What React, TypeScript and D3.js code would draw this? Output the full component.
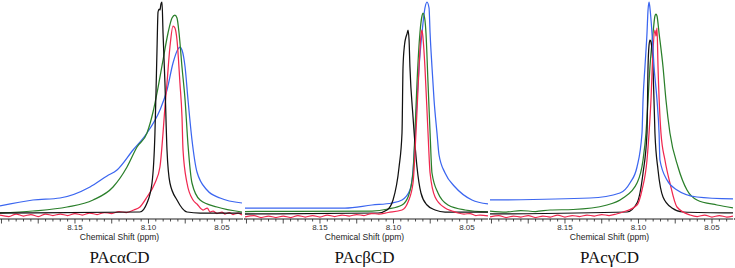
import React from "react";
import * as d3 from "d3";

type Pt = [number, number];

const panelTitles = ["PAcαCD", "PAcβCD", "PAcγCD"];
const axisLabel = "Chemical Shift (ppm)";
const tickLabels = [8.15, 8.1, 8.05];
const ppmDomain: [number, number] = [8.201, 8.0357];
const intensityDomain: [number, number] = [0, 217];
const seriesColors = { black: "#111111", green: "#2a7f2a", red: "#f0284f", blue: "#3b66f0" };

// Panel 1 (PAcαCD)
const blue1: Pt[] = [
  [8.201, 13], [8.1786, 19], [8.1602, 21], [8.1398, 32], [8.1282, 43], [8.1214, 49],
  [8.1105, 69], [8.101, 86], [8.0922, 109], [8.0874, 129], [8.0833, 156], [8.0799, 170],
  [8.0786, 172], [8.0772, 169], [8.0751, 152], [8.0731, 119], [8.0704, 79], [8.067, 47],
  [8.0602, 29], [8.0513, 21], [8.0364, 16],
];
const green1: Pt[] = [
  [8.201, 6], [8.1786, 8], [8.1554, 12], [8.1377, 19], [8.1241, 32], [8.1146, 52],
  [8.1078, 72], [8.101, 86], [8.0969, 107], [8.0942, 126], [8.0901, 159], [8.0867, 186],
  [8.084, 201], [8.082, 204], [8.0806, 201], [8.0792, 186], [8.0772, 152], [8.0751, 119],
  [8.0731, 74], [8.0704, 36], [8.0649, 19], [8.0534, 12], [8.0364, 7],
];
const red1: Pt[] = [
  [8.201, 4], [8.195, 2.5], [8.19, 5], [8.185, 3], [8.18, 4.5], [8.175, 2.5], [8.17, 5],
  [8.165, 3.5], [8.16, 5], [8.155, 3.5], [8.15, 5.5], [8.145, 4], [8.14, 6], [8.135, 4.5],
  [8.13, 6.5], [8.125, 5.5], [8.12, 7.5], [8.115, 6.5], [8.11, 9], [8.1058, 12],
  [8.101, 22], [8.0956, 36], [8.0922, 52], [8.0901, 86], [8.0888, 112], [8.0874, 136],
  [8.0854, 172], [8.0833, 193], [8.082, 191], [8.0806, 179], [8.0786, 136], [8.0772, 102],
  [8.0765, 69], [8.0738, 36], [8.0697, 19], [8.067, 15], [8.0629, 9], [8.06, 11], [8.0581, 7],
  [8.0561, 8], [8.0534, 5.5], [8.05, 7], [8.0479, 5], [8.045, 6.5], [8.0425, 4.5], [8.039, 6],
  [8.0364, 4],
];
const black1: Pt[] = [
  [8.201, 6], [8.1058, 7], [8.101, 16], [8.0976, 36], [8.0956, 86], [8.0949, 126],
  [8.0942, 169], [8.0935, 207], [8.0928, 210], [8.0922, 209], [8.0915, 215], [8.0908, 217],
  [8.0901, 186], [8.0888, 136], [8.0874, 69], [8.0854, 36], [8.0806, 19], [8.0738, 7],
  [8.0649, 6], [8.0364, 6],
];

// Panel 2 (PAcβCD)
const blue2: Pt[] = [
  [8.201, 11], [8.133, 11], [8.1146, 14], [8.101, 16], [8.0942, 19], [8.0888, 29],
  [8.0867, 49], [8.0854, 79], [8.084, 119], [8.0826, 152], [8.0806, 186], [8.0786, 211],
  [8.0772, 217], [8.0758, 211], [8.0751, 186], [8.0738, 152], [8.0724, 119], [8.0704, 86],
  [8.069, 64], [8.0649, 46], [8.0581, 32], [8.0466, 19], [8.0357, 15],
];
const green2: Pt[] = [
  [8.201, 7.5], [8.1146, 8], [8.1037, 10], [8.0942, 14], [8.0901, 22], [8.0867, 46],
  [8.0854, 86], [8.084, 136], [8.082, 186], [8.0806, 203], [8.0799, 206], [8.0786, 199],
  [8.0779, 186], [8.0765, 136], [8.0751, 86], [8.0738, 46], [8.0697, 26], [8.0629, 14],
  [8.0513, 9], [8.0357, 7],
];
const red2: Pt[] = [
  [8.201, 2], [8.195, 3.5], [8.19, 1.5], [8.185, 3], [8.18, 1.5], [8.175, 3], [8.17, 1.5],
  [8.165, 3.5], [8.16, 2], [8.155, 3.5], [8.15, 2], [8.145, 4], [8.14, 2.5], [8.135, 4],
  [8.13, 3], [8.125, 4.5], [8.12, 3.5], [8.115, 5.5], [8.11, 5], [8.1037, 6.5],
  [8.0942, 9], [8.0901, 17], [8.0867, 36], [8.0847, 86], [8.0826, 152], [8.0813, 184],
  [8.0806, 189], [8.0799, 181], [8.0786, 152], [8.0765, 86], [8.0751, 46], [8.0717, 22],
  [8.0649, 11], [8.06, 8], [8.0561, 6], [8.052, 5], [8.0479, 5.5], [8.044, 3.5], [8.0411, 4],
  [8.0357, 3],
];
const black2: Pt[] = [
  [8.201, 5], [8.1105, 6], [8.1044, 9], [8.1003, 19], [8.0962, 52], [8.0942, 86],
  [8.0935, 152], [8.0925, 174], [8.0915, 182], [8.0908, 185], [8.0901, 189], [8.0894, 179],
  [8.0888, 152], [8.0867, 102], [8.084, 52], [8.0813, 26], [8.0772, 14], [8.0717, 9],
  [8.0649, 7], [8.0357, 7],
];

// Panel 3 (PAcγCD)
const blue3: Pt[] = [
  [8.201, 19], [8.133, 21], [8.1126, 26], [8.1058, 36], [8.101, 52], [8.0976, 86],
  [8.0969, 119], [8.0956, 152], [8.0942, 186], [8.0935, 209], [8.0928, 217], [8.0922, 211],
  [8.0908, 186], [8.0894, 152], [8.0874, 119], [8.086, 86], [8.0854, 59], [8.0806, 39],
  [8.0738, 29], [8.0602, 22], [8.0357, 20],
];
const green3: Pt[] = [
  [8.201, 8], [8.19, 7], [8.18, 8.5], [8.17, 7.5], [8.16, 9], [8.1445, 9.5], [8.1214, 14],
  [8.1105, 21], [8.101, 36], [8.0969, 59], [8.0949, 86], [8.0935, 119], [8.0922, 152],
  [8.0901, 186], [8.0888, 203], [8.0881, 205], [8.0874, 203], [8.086, 186], [8.0833, 152],
  [8.0813, 119], [8.0786, 86], [8.0731, 52], [8.067, 29], [8.0602, 19], [8.0466, 14],
  [8.0357, 11],
];
const red3: Pt[] = [
  [8.201, 2], [8.195, 3.5], [8.19, 1.5], [8.185, 3], [8.18, 2], [8.175, 3.5], [8.17, 1.5],
  [8.165, 3], [8.16, 2], [8.155, 4], [8.15, 2], [8.145, 3.5], [8.14, 2.5], [8.135, 4],
  [8.13, 3], [8.125, 4.5], [8.12, 3.5], [8.115, 5], [8.1105, 7], [8.101, 14], [8.0976, 29],
  [8.0942, 59], [8.0928, 86], [8.0915, 119], [8.0901, 169], [8.0888, 189], [8.0881, 183],
  [8.0874, 191], [8.0867, 152], [8.0847, 86], [8.082, 59], [8.0786, 36], [8.0738, 12],
  [8.0649, 4], [8.06, 2.5], [8.055, 4], [8.05, 2], [8.045, 3.5], [8.04, 2], [8.0357, 3],
];
const black3: Pt[] = [
  [8.201, 5], [8.1078, 7], [8.101, 16], [8.0969, 46], [8.0942, 86], [8.0935, 152],
  [8.0928, 174], [8.0922, 179], [8.0915, 177], [8.0901, 152], [8.0888, 86], [8.0867, 49],
  [8.0833, 22], [8.0772, 11], [8.0697, 7], [8.0357, 6],
];

const panels = [
  { title: panelTitles[0], series: [
    { c: seriesColors.blue, d: blue1 }, { c: seriesColors.green, d: green1 },
    { c: seriesColors.red, d: red1 }, { c: seriesColors.black, d: black1 } ] },
  { title: panelTitles[1], series: [
    { c: seriesColors.blue, d: blue2 }, { c: seriesColors.green, d: green2 },
    { c: seriesColors.black, d: black2 }, { c: seriesColors.red, d: red2 } ] },
  { title: panelTitles[2], series: [
    { c: seriesColors.green, d: green3 }, { c: seriesColors.black, d: black3 },
    { c: seriesColors.red, d: red3 }, { c: seriesColors.blue, d: blue3 } ] },
];

const W = 735, H = 268;
const panelW = 245;
const plotW = 243;
const axisY = 219;
const topY = 2;

function Panel({ p, x0 }: { p: typeof panels[number]; x0: number }) {
  const x = d3.scaleLinear().domain(ppmDomain).range([x0, x0 + plotW]);
  const y = d3.scaleLinear().domain(intensityDomain).range([axisY, topY]);
  const line = d3.line<Pt>().x((d) => x(d[0])).y((d) => y(d[1])).curve(d3.curveMonotoneX);
  const minor = d3.range(Math.ceil(8.0357 / 0.005), Math.floor(8.201 / 0.005) + 1).map((k) => k * 0.005);
  const cx = x0 + plotW / 2;
  return (
    <g>
      <defs>
        <clipPath id={`clip${x0}`}>
          <rect x={x0} y={0} width={plotW} height={axisY + 1} />
        </clipPath>
      </defs>
      <g clipPath={`url(#clip${x0})`}>
        {p.series.map((s, i) => (
          <path key={i} d={line(s.d) || ""} fill="none" stroke={s.c} strokeWidth={1.25} strokeLinejoin="round" />
        ))}
      </g>
      <line x1={x0} x2={x0 + plotW} y1={axisY} y2={axisY} stroke="#222" strokeWidth={1} />
      {minor.map((t, i) => {
        const major = Math.abs(Math.round(t * 40) - t * 40) < 1e-6;
        return (
          <line key={i} x1={x(t)} x2={x(t)} y1={axisY} y2={axisY + (major ? 4.5 : 2.5)} stroke="#222" strokeWidth={0.8} />
        );
      })}
      <circle cx={x0 + plotW + 1.5} cy={axisY} r={0.7} fill="#222" />
      {tickLabels.map((t) => (
        <text key={t} x={x(t)} y={axisY + 11} textAnchor="middle" fontFamily="Liberation Sans, Arial, sans-serif" fontSize={8} fill="#333">
          {t.toFixed(2)}
        </text>
      ))}
      <text x={cx - 2} y={axisY + 21} textAnchor="middle" fontFamily="Liberation Sans, Arial, sans-serif" fontSize={8.5} fill="#222">
        {axisLabel}
      </text>
      <text x={cx - 2} y={263} textAnchor="middle" fontFamily="Liberation Serif, Times New Roman, serif" fontSize={17} fill="#111">
        {p.title}
      </text>
    </g>
  );
}

export default function App() {
  return (
    <svg width={W} height={H} style={{ position: "absolute", left: 0, top: 0, background: "#fff" }}>
      <rect width={W} height={H} fill="#fff" />
      {panels.map((p, i) => (
        <Panel key={i} p={p} x0={i * panelW} />
      ))}
    </svg>
  );
}
